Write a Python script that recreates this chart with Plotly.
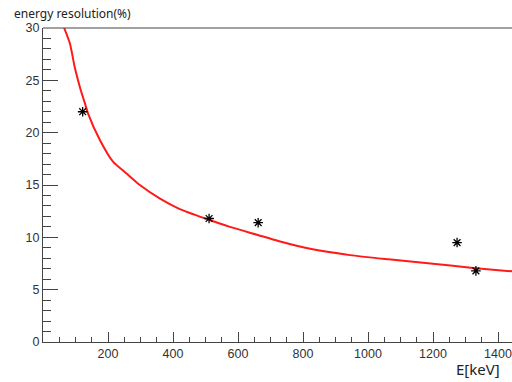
import plotly.graph_objects as go

# measured points
energy_kev = [122, 511, 662, 1274, 1332]
resolution_pct = [22.0, 11.8, 11.4, 9.5, 6.8]

# fitted curve
fit_energy = [65, 83, 98, 114, 129, 139, 175, 216, 257, 298, 360, 421, 504, 575, 658, 724, 822, 945, 1063, 1200, 1323, 1443]
fit_resolution = [30.0, 28.5, 26.2, 24.3, 22.8, 21.8, 19.3, 17.2, 16.1, 15.0, 13.7, 12.7, 11.75, 11.0, 10.25, 9.65, 8.9, 8.3, 7.9, 7.48, 7.07, 6.75]

x_ticks = [200, 400, 600, 800, 1000, 1200, 1400]
y_ticks = [0, 5, 10, 15, 20, 25, 30]

fig = go.Figure()
fig.add_trace(go.Scatter(x=fit_energy, y=fit_resolution, mode="lines",
                         line=dict(color="#ff1a1a", width=2, shape="spline", smoothing=0.6),
                         showlegend=False, hoverinfo="skip"))
fig.add_trace(go.Scatter(x=energy_kev, y=resolution_pct, mode="markers",
                         marker=dict(symbol="asterisk-open", size=8, color="black",
                                     line=dict(color="black", width=1.3)),
                         showlegend=False))

axis_col = "#444444"
fig.update_layout(
    width=512, height=382,
    margin=dict(l=43, r=0, t=28, b=40),
    paper_bgcolor="white", plot_bgcolor="white",
    font=dict(family="Liberation Sans, Arial, sans-serif", size=12, color="#333333"),
    xaxis=dict(range=[0, 1443], tickvals=x_ticks, ticks="inside", ticklen=10,
               tickcolor=axis_col, showline=True, linecolor=axis_col, linewidth=1,
               showgrid=False, zeroline=False, automargin=False, ticklabeloverflow="allow",
               minor=dict(dtick=50, tick0=0, ticks="inside", ticklen=5, tickcolor=axis_col, showgrid=False),
               tickfont=dict(size=12.5, color="#333333")),
    yaxis=dict(range=[0, 30], tickvals=y_ticks, ticks="inside", ticklen=15,
               tickcolor=axis_col, showline=True, linecolor=axis_col, linewidth=1,
               showgrid=False, zeroline=False, automargin=False,
               minor=dict(dtick=1, tick0=0, ticks="inside", ticklen=8, tickcolor=axis_col, showgrid=False),
               tickfont=dict(size=12.5, color="#333333")),
    shapes=[dict(type="line", xref="paper", yref="paper", x0=0, x1=1, y0=1, y1=1,
                 line=dict(color=axis_col, width=1))],
    annotations=[
        dict(text="energy resolution(%)", xref="paper", yref="paper", x=-0.066, y=1.045,
             xanchor="left", yanchor="middle", showarrow=False,
             font=dict(family="Noto Sans, sans-serif", size=12, color="#222222")),
        dict(text="E[keV]", xref="paper", yref="paper", x=0.979, y=-0.086,
             xanchor="right", yanchor="middle", showarrow=False,
             font=dict(family="Noto Sans, sans-serif", size=15, color="#222222")),
    ],
)

fig.write_html("out.html", config={"displayModeBar": False},
               post_script="document.body.style.margin='0';")
